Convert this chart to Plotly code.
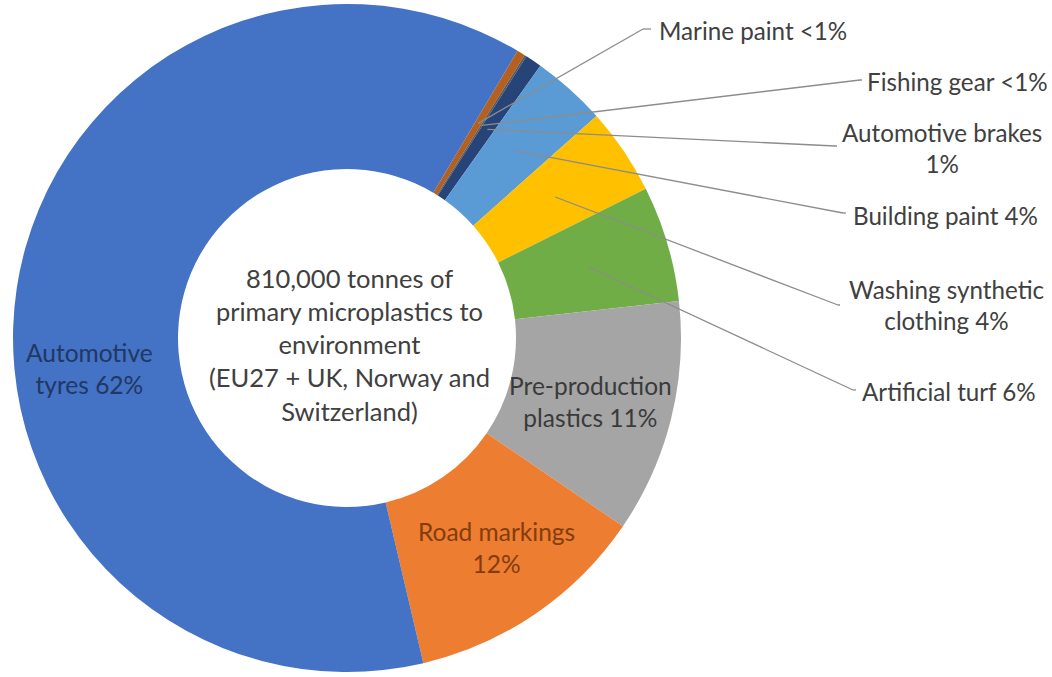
import math
import plotly.graph_objects as go

# ---- data ----
labels = ["Marine paint", "Fishing gear", "Automotive brakes", "Building paint",
          "Washing synthetic clothing", "Artificial turf", "Pre-production plastics",
          "Road markings", "Automotive tyres"]
values = [0.4, 0.1, 0.8, 3.6, 4.2, 5.6, 11.3, 11.8, 62.2]
pct_text = ["<1%", "<1%", "1%", "4%", "4%", "6%", "11%", "12%", "62%"]
colors = ["#B5601E", "#5A5A5A", "#264478", "#5B9BD5", "#FFC000", "#70AD47",
          "#A5A5A5", "#ED7D31", "#4472C4"]
center_text = "810,000 tonnes of<br>primary microplastics to<br>environment<br>(EU27 + UK, Norway and<br>Switzerland)"

W, H = 1052, 677
CX, CY, R = 347, 338, 334
HOLE = 0.506
ROT = 30.7
FONT = "Lato, Carlito, Calibri, sans-serif"
FS = 24.2

def px(x):
    return x / W

def py(y):
    return 1 - y / H

fig = go.Figure()
fig.add_trace(go.Pie(
    labels=labels, values=values, sort=False, direction="clockwise",
    rotation=ROT, hole=HOLE, textinfo="none",
    marker=dict(colors=colors, line=dict(width=0)),
    domain=dict(x=[px(CX - R), px(CX + R)], y=[py(CY + R), py(CY - R)]),
    showlegend=False, hoverinfo="label+percent",
))

# anchor points on each slice computed from the data
total = sum(values)
anchors = []
cum = 0
rmid = R * (1 + HOLE) / 2
for v in values:
    a = math.radians(ROT + (cum + v / 2) / total * 360)
    anchors.append((CX + rmid * math.sin(a), CY - rmid * math.cos(a)))
    cum += v

# outside labels: (index, elbow point, end point, text, x, y, anchor)
outside = [
    (0, (643, 29), (651, 29), "Marine paint " + pct_text[0], 657, 31, "left"),
    (1, (860, 80), (862, 80), "Fishing gear " + pct_text[1], 865, 81, "left"),
    (2, (835, 146), (837, 146), "Automotive brakes<br>" + pct_text[2], 942, 148, "center"),
    (3, (843, 213), (846, 213), "Building paint " + pct_text[3], 851, 215, "left"),
    (4, (838, 305), (840, 305), "Washing synthetic<br>clothing " + pct_text[4], 946, 305, "center"),
    (5, (853, 390), (856, 390), "Artificial turf " + pct_text[5], 860, 391, "left"),
]
shapes = []
annotations = []
for idx, elbow, end, txt, tx, ty, anc in outside:
    ax, ay = anchors[idx]
    for (x0, y0), (x1, y1) in [((ax, ay), elbow), (elbow, end)]:
        shapes.append(dict(type="line", xref="paper", yref="paper",
                           x0=px(x0), y0=py(y0), x1=px(x1), y1=py(y1),
                           line=dict(color="#8C8C8C", width=1.3)))
    annotations.append(dict(text=txt, x=px(tx), y=py(ty), xref="paper", yref="paper",
                            xanchor=anc, yanchor="middle", showarrow=False, align="center",
                            font=dict(family=FONT, size=FS, color="#404040")))

# inside labels
inside = [
    (8, "Automotive<br>tyres " + pct_text[8], 89, 368, "#1F3864"),
    (7, "Road markings<br>" + pct_text[7], 496, 547, "#843C0C"),
    (6, "Pre-production<br>plastics " + pct_text[6], 590, 401, "#3A3A3A"),
]
for idx, txt, tx, ty, col in inside:
    annotations.append(dict(text=txt, x=px(tx), y=py(ty), xref="paper", yref="paper",
                            xanchor="center", yanchor="middle", showarrow=False, align="center",
                            font=dict(family=FONT, size=24.5, color=col)))

annotations.append(dict(text=center_text, x=px(349), y=py(344), xref="paper", yref="paper",
                        xanchor="center", yanchor="middle", showarrow=False, align="center",
                        font=dict(family=FONT, size=25.5, color="#404040")))

fig.update_layout(
    width=W, height=H, margin=dict(l=0, r=0, t=0, b=0),
    paper_bgcolor="white", plot_bgcolor="white",
    shapes=shapes, annotations=annotations,
)
fig.write_html("out.html")
